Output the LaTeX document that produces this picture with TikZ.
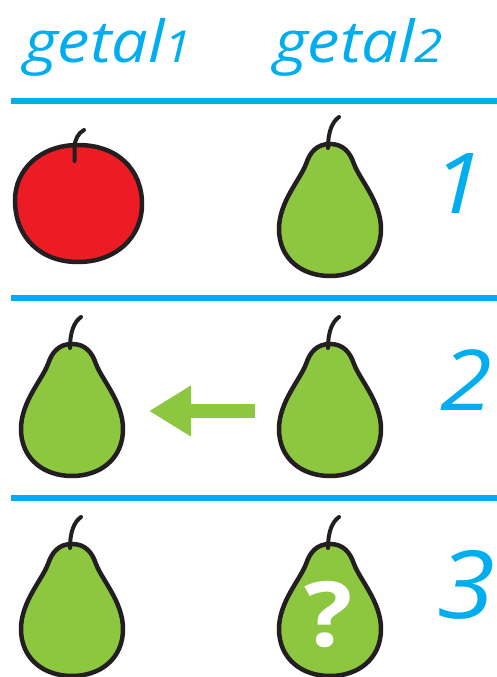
\documentclass[tikz,border=0pt]{standalone}
\usepackage{fontspec}
\setmainfont[FakeStretch=1.12]{Open Sans}
\usetikzlibrary{arrows.meta,positioning}
\definecolor{lineblue}{RGB}{0,174,239}
\definecolor{peargreen}{RGB}{141,198,63}
\definecolor{applered}{RGB}{237,28,36}
\definecolor{outline}{RGB}{35,31,32}
\tikzset{
  rule/.style={lineblue,line width=6pt},
  label/.style={lineblue,inner sep=0pt,anchor=base west,font=\fontsize{58}{58}\selectfont\itshape},
  digit/.style={lineblue,inner sep=0pt,anchor=base,font=\fontsize{84}{84}\selectfont\itshape},
  stem/.style={outline,line width=4pt,line cap=round},
  pear/.pic={
    \draw[outline,fill=peargreen,line width=4.5pt]
      (0,0) .. controls (-13,0) and (-20,8) .. (-24,20)
      .. controls (-30,36) and (-51,58) .. (-51,85)
      .. controls (-51,115) and (-28,132) .. (0,132)
      .. controls (28,132) and (51,115) .. (51,85)
      .. controls (51,58) and (30,36) .. (24,20)
      .. controls (20,8) and (13,0) .. (0,0) -- cycle;
    \draw[stem] (-2,4) .. controls (-2,-12) and (2,-22) .. (9,-27);
    \coordinate (-in) at (51,67);
    \coordinate (-out) at (-51,67);
  }
}
\begin{document}
\begin{tikzpicture}[x=1pt,y=-1pt]
  \useasboundingbox (0,0) rectangle (497,677);
  % headings
  \node[label] (getala) at (24,63) {getal{\fontsize{44}{44}\selectfont 1}};
  \node[label] (getalb) at (274,63) {getal{\fontsize{46}{46}\selectfont 2}};
  % rules
  \coordinate (ruleaw) at (11,101);
  \coordinate (ruleae) at (497,101);
  \coordinate (rulebw) at (11,298);
  \coordinate (rulebe) at (497,298);
  \coordinate (rulecw) at (11,498);
  \coordinate (rulece) at (497,498);
  \draw[rule] (ruleaw) -- (ruleae);
  \draw[rule] (rulebw) -- (rulebe);
  \draw[rule] (rulecw) -- (rulece);
  % row 1
  \draw[outline,fill=applered,line width=4.5pt] (78,145) .. controls (118,145) and (142,170) .. (142,204)
    .. controls (142,238) and (115,262) .. (78,262)
    .. controls (41,262) and (15,238) .. (15,200)
    .. controls (15,170) and (40,145) .. (78,145) -- cycle;
  \draw[stem] (74.5,161) -- (74.5,146) .. controls (75,140) and (78,133) .. (84,130);
  \pic (peara) at (330,144) {pear};
  \node[digit] (digita) at (458,213) {1};
  % row 2
  \pic (pearb) at (72,344) {pear};
  \pic (pearc) at (330,344) {pear};
  \draw[-{Triangle[length=42pt,width=48pt]},peargreen,line width=14pt,shorten >=26pt,shorten <=24pt]
    (pearc-out) -- (pearb-in);
  \node[digit] (digitb) at (466,410) {2};
  % row 3
  \pic (peard) at (72,544) {pear};
  \pic (peare) at (330,544) {pear};
  \node[white,inner sep=0pt,font=\fontsize{90}{90}\selectfont\bfseries] (question) at (329,615) {?};
  \node[digit,font=\fontsize{94}{94}\selectfont\itshape] (digitc) at (466,618) {3};
\end{tikzpicture}
\end{document}
